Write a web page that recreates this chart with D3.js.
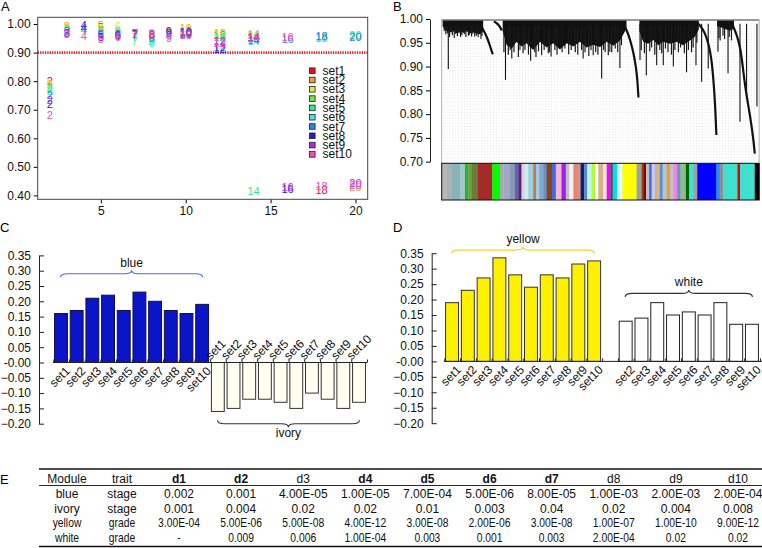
<!DOCTYPE html>
<html>
<head>
<meta charset="utf-8">
<script src="https://cdn.jsdelivr.net/npm/d3@7"></script>
<style>
  body { margin: 0; background: #fff; }
  svg text { font-family: "Liberation Sans", Arial, sans-serif; }
</style>
</head>
<body>
<script>
// ---- panel A: scale-free fit per soft power ----
const powers = [2, 3, 4, 5, 6, 7, 8, 9, 10, 12, 14, 16, 18, 20];
const setNames = ["set1", "set2", "set3", "set4", "set5", "set6", "set7", "set8", "set9", "set10"];
const setColors = ["#e8101e", "#f0a030", "#d4f040", "#78e040", "#30e890", "#40e8e8", "#3080e8", "#3018c8", "#a830e0", "#f050c0"];
const fitSet1  = [0.800, 0.985, 0.980, 0.990, 0.970, 0.965, 0.965, 0.970, 0.975, 0.960, 0.955, null, 0.420, null];
const fitSet2  = [0.790, 0.992, 0.985, 0.997, 0.975, 0.968, 0.970, 0.972, 0.985, 0.955, 0.960, null, null, 0.428];
const fitSet3  = [0.785, 0.985, 0.980, 0.985, 0.992, 0.966, 0.968, 0.970, 0.978, 0.965, 0.962, null, null, null];
const fitSet4  = [0.778, 0.980, 0.980, 0.980, 0.975, 0.942, 0.955, 0.965, 0.970, 0.970, 0.965, null, 0.952, 0.960];
const fitSet5  = [0.772, 0.980, 0.978, 0.975, 0.970, 0.955, 0.940, 0.960, 0.968, 0.955, 0.415, null, null, null];
const fitSet6  = [0.765, 0.975, 0.980, 0.970, 0.970, 0.960, 0.935, 0.958, 0.965, 0.945, 0.940, null, 0.956, 0.957];
const fitSet7  = [0.752, 0.975, 0.985, 0.965, 0.965, 0.962, 0.950, 0.970, 0.970, 0.920, 0.945, 0.947, 0.958, 0.955];
const fitSet8  = [0.720, 0.970, 0.997, 0.955, 0.960, 0.965, 0.960, 0.975, 0.972, 0.912, 0.950, 0.423, null, null];
const fitSet9  = [0.735, 0.970, 0.985, 0.960, 0.958, 0.968, 0.965, 0.968, 0.966, 0.940, 0.955, 0.430, null, 0.442];
const fitSet10 = [0.680, 0.965, 0.958, 0.948, 0.955, 0.970, 0.962, 0.950, 0.960, 0.935, 0.950, 0.955, 0.433, 0.437];
const fitBySet = [fitSet1, fitSet2, fitSet3, fitSet4, fitSet5, fitSet6, fitSet7, fitSet8, fitSet9, fitSet10];
const fitCutoff = 0.90;
const fitYTicks = [0.40, 0.50, 0.60, 0.70, 0.80, 0.90, 1.00];
const fitXTicks = [5, 10, 15, 20];

// ---- panel B: dendrogram (leaf order 0..1000) + module colours ----
const dendroYTicks = [0.70, 0.75, 0.80, 0.85, 0.90, 0.95, 1.00];
const massCluster1 = [[3, .985], [10, .978], [16, .975], [27, .972], [37, .974], [48, .970], [58, .973], [69, .971], [80, .974], [90, .970], [101, .972], [112, .969], [122, .968], [132, .975]];
const massCluster2 = [[194, .975], [207, .945], [223, .938], [238, .952], [254, .942], [270, .949], [291, .935], [313, .952], [334, .940], [355, .949], [376, .936], [398, .949], [419, .942], [440, .952], [461, .940], [482, .946], [504, .941], [525, .952], [546, .944], [567, .955], [578, .968], [588, .980]];
const massCluster3 = [[629, .975], [641, .952], [657, .948], [673, .956], [689, .945], [705, .952], [726, .948], [747, .952], [768, .945], [790, .955], [805, .962], [818, .978]];
const massCluster4 = [[876, .985], [890, .982], [905, .978], [918, .976], [930, .980]];
const chain1 = [[118, .993], [135, .975], [145, .960], [153, .945], [159, .932], [163, .926]];
const chain1b = [[166, .995], [178, .990], [186, .983], [191, .976]];
const chain2 = [[575, .993], [590, .975], [600, .955], [610, .930], [618, .900], [623, .870], [626, .835]];
const chain3 = [[810, .993], [825, .985], [838, .970], [848, .950], [858, .920], [865, .870], [870, .820], [874, .756]];
const chain4 = [[925, .988], [940, .965], [950, .940], [958, .900], [965, .860], [975, .820], [985, .780], [992, .745], [996, .717]];
const dendroDrops = [[21, .895], [40, .960], [60, .962], [85, .965], [105, .963], [125, .958],
  [203, .872], [223, .917], [249, .935], [283, .912], [318, .924], [348, .921], [392, .938], [450, .917],
  [482, .924], [509, .875], [535, .931], [567, .897],
  [631, .914], [651, .882], [684, .903], [705, .903], [737, .900], [779, .888], [809, .903], [827, .868], [848, .896],
  [879, .931], [911, .886], [949, .784], [970, .835], [1003, .816]];
const dendroHairs = [[8, .975], [13, .968], [18, .970], [25, .962], [30, .972], [34, .966], [44, .969], [50, .964], [55, .970],
  [64, .966], [72, .968], [77, .962], [88, .967], [95, .963], [99, .969], [110, .965], [116, .962], [128, .964],
  [198, .930], [212, .925], [218, .935], [230, .930], [244, .920], [259, .928], [265, .935], [276, .925], [296, .930],
  [300, .920], [308, .932], [326, .935], [339, .928], [343, .930], [360, .935], [367, .925], [383, .930], [404, .926],
  [412, .935], [425, .930], [433, .925], [445, .935], [456, .930], [468, .922], [475, .935], [490, .930], [497, .925],
  [515, .935], [520, .930], [530, .924], [541, .930], [552, .938], [560, .930], [572, .945],
  [635, .935], [645, .928], [662, .932], [668, .940], [678, .925], [694, .935], [700, .928], [712, .938], [720, .930],
  [731, .925], [742, .935], [753, .930], [760, .940], [772, .928], [785, .935], [795, .930], [800, .940], [812, .950],
  [882, .960], [886, .955], [895, .965], [900, .958], [915, .962], [922, .955]];
const moduleColors = ["#b8b8b8", "#a8b4b4", "#88b4b8", "#a0c8c8", "#30b030", "#70a040", "#6b7b3a", "#a52a2a", "#00ff00", "#a8a8a8",
  "#a0a8c8", "#8898b8", "#5868a8", "#602080", "#d8d8d8", "#c8eef8", "#a0d0e0", "#c08040", "#a8c8e8", "#80a8d0",
  "#6890c0", "#8b4513", "#4169e1", "#f4b8d0", "#a020f0", "#c0c0c0", "#f0f0f0", "#f08070", "#c09888", "#191970",
  "#5090c8", "#c8f0f0", "#adff2f", "#ffffff", "#d2b48c", "#e8e8d8", "#ff00ff", "#505050", "#00e0e0", "#e0ffff",
  "#ffff00", "#a0a0a0", "#8b4513", "#8b0000", "#c0c0c0", "#4169e1", "#c8c8f8", "#d2b48c", "#6090c0", "#a8c8e8",
  "#e0a040", "#c0c0c0", "#ee82ee", "#6a9ab0", "#8fbc8f", "#006400", "#40e0d0", "#a0a0a0", "#0000ff", "#1e90ff",
  "#909090", "#40e0d0", "#e00000", "#40e0d0", "#000000"];
const moduleWidths = [16, 16, 26, 16, 11, 10, 19, 47, 24, 11,
  21, 16, 11, 10, 11, 10, 16, 9, 10, 13,
  11, 17, 12, 18, 14, 11, 13, 15, 8, 11,
  10, 14, 11, 10, 16, 11, 12, 7, 14, 17,
  45, 16, 7, 7, 10, 8, 10, 16, 9, 12,
  11, 11, 12, 11, 17, 10, 13, 13, 61, 11,
  11, 45, 8, 47, 14];

// ---- panels C & D: module-trait correlation per data set ----
const corrYTicks = [-0.20, -0.15, -0.10, -0.05, 0.00, 0.05, 0.10, 0.15, 0.20, 0.25, 0.30, 0.35];
const blueVals   = [0.16, 0.17, 0.21, 0.22, 0.17, 0.23, 0.20, 0.17, 0.16, 0.19];
const ivoryVals  = [-0.16, -0.15, -0.12, -0.12, -0.13, -0.15, -0.10, -0.12, -0.15, -0.13];
const yellowVals = [0.19, 0.23, 0.27, 0.335, 0.28, 0.24, 0.28, 0.27, 0.315, 0.325];
const whiteVals  = [null, 0.13, 0.14, 0.19, 0.15, 0.16, 0.15, 0.19, 0.12, 0.12];

// ---- panel E: p-values ----
const tableHeader = ["Module", "trait", "d1", "d2", "d3", "d4", "d5", "d6", "d7", "d8", "d9", "d10"];
const headerBold  = [false, false, true, true, false, true, true, true, true, false, false, false];
const tableModules = ["blue", "ivory", "yellow", "white"];
const tableTraits  = ["stage", "stage", "grade", "grade"];
const pBlue   = ["0.002", "0.001", "4.00E-05", "1.00E-05", "7.00E-04", "5.00E-06", "8.00E-05", "1.00E-03", "2.00E-03", "2.00E-04"];
const pIvory  = ["0.001", "0.004", "0.02", "0.02", "0.01", "0.003", "0.04", "0.02", "0.004", "0.008"];
const pYellow = ["3.00E-04", "5.00E-06", "5.00E-08", "4.00E-12", "3.00E-08", "2.00E-06", "3.00E-08", "1.00E-07", "1.00E-10", "9.00E-12"];
const pWhite  = ["-", "0.009", "0.006", "1.00E-04", "0.003", "0.001", "0.003", "2.00E-04", "0.02", "0.02"];
const pRows = [pBlue, pIvory, pYellow, pWhite];

const width = 762, height = 548;
const svg = d3.select("body").append("svg")
  .attr("width", width).attr("height", height)
  .attr("viewBox", `0 0 ${width} ${height}`);

const panelLetter = (t, x, y) => svg.append("text").attr("x", x).attr("y", y)
  .attr("font-size", 13).text(t);

// ================= A =================
{
  const x = d3.scaleLinear().domain([1.28, 20.72]).range([37.7, 367.7]);
  const y = d3.scaleLinear().domain([0.3864, 1.0236]).range([199.3, 17.3]);
  const g = svg.append("g");

  g.append("g").attr("transform", `translate(37.7,0)`)
    .call(d3.axisLeft(y).tickValues(fitYTicks).tickFormat(d3.format(".2f")).tickSize(4).tickSizeOuter(0))
    .call(a => a.select(".domain").remove())
    .call(a => a.selectAll("text").attr("font-size", 12).attr("fill", "#111"));
  g.append("g").attr("transform", `translate(0,199.3)`)
    .call(d3.axisBottom(x).tickValues(fitXTicks).tickSize(4).tickSizeOuter(0))
    .call(a => a.select(".domain").remove())
    .call(a => a.selectAll("text").attr("font-size", 12).attr("fill", "#111").attr("dy", "0.72em"));

  g.append("path")
    .attr("d", d3.line()([[x.domain()[0], fitCutoff], [x.domain()[1], fitCutoff]].map(d => [x(d[0]), y(d[1])])))
    .attr("stroke", "#ee1c24").attr("stroke-width", 2.6).attr("stroke-dasharray", "1.3 1.1");

  fitBySet.forEach((vals, si) => {
    g.append("g").selectAll("text")
      .data(powers.map((p, i) => ({ p, v: vals[i] })).filter(d => d.v != null))
      .join("text")
      .attr("x", d => x(d.p)).attr("y", d => y(d.v))
      .attr("text-anchor", "middle").attr("dominant-baseline", "central")
      .attr("font-size", 11).attr("fill", setColors[si])
      .text(d => d.p);
  });

  g.append("rect").attr("x", 37.7).attr("y", 17.3).attr("width", 330).attr("height", 182)
    .attr("fill", "none").attr("stroke", "#444").attr("stroke-width", 1);

  const leg = g.append("g").selectAll("g").data(setNames).join("g")
    .attr("transform", (d, i) => `translate(309.5,${70.7 + i * 9.3})`);
  leg.append("rect").attr("x", 0).attr("y", -2.8).attr("width", 5.6).attr("height", 5.6)
    .attr("fill", (d, i) => setColors[i]).attr("stroke", "#222").attr("stroke-width", 0.8);
  leg.append("text").attr("x", 13).attr("y", 0).attr("dominant-baseline", "central")
    .attr("font-size", 12).attr("fill", "#111").text(d => d);

  panelLetter("A", 1, 11);
}

// ================= B =================
{
  const xL = d3.scaleLinear().domain([0, 1000]).range([441.7, 756]);
  const y = d3.scaleLinear().domain([0.70, 1.00]).range([161.7, 19]);
  const g = svg.append("g");
  const defs = svg.append("defs");
  defs.append("pattern").attr("id", "dots").attr("patternUnits", "userSpaceOnUse")
    .attr("width", 2.9).attr("height", 2.8)
    .append("rect").attr("width", 0.7).attr("height", 0.7).attr("fill", "#c4c4c4");

  g.append("rect").attr("x", xL(0)).attr("y", y(0.99)).attr("width", xL(1000) - xL(0)).attr("height", 163.3 - y(0.99))
    .attr("fill", "url(#dots)");

  g.append("g").attr("transform", `translate(430,0)`)
    .call(d3.axisLeft(y).tickValues(dendroYTicks).tickFormat(d3.format(".2f")).tickSize(4).tickSizeOuter(0))
    .call(a => a.select(".domain").attr("stroke", "#222"))
    .call(a => a.selectAll("text").attr("font-size", 12).attr("fill", "#111"));

  const area = d3.area().x(d => xL(d[0])).y0(d => y(d[1])).y1(y(0.998)).curve(d3.curveLinear);
  [massCluster1, massCluster2, massCluster3, massCluster4].forEach(m => {
    g.append("path").attr("d", area(m)).attr("fill", "#111");
  });
  g.append("g").selectAll("line").data(dendroHairs).join("line")
    .attr("x1", d => xL(d[0])).attr("x2", d => xL(d[0]))
    .attr("y1", y(0.985)).attr("y2", d => y(d[1]))
    .attr("stroke", "#1a1a1a").attr("stroke-width", 1.2);
  const line = d3.line().x(d => xL(d[0])).y(d => y(d[1])).curve(d3.curveBasis);
  [chain1, chain1b, chain2, chain3, chain4].forEach(c => {
    g.append("path").attr("d", line(c)).attr("fill", "none").attr("stroke", "#111").attr("stroke-width", 2.2);
  });
  g.append("g").selectAll("line").data(dendroDrops).join("line")
    .attr("x1", d => xL(d[0])).attr("x2", d => xL(d[0]))
    .attr("y1", y(0.99)).attr("y2", d => y(d[1]))
    .attr("stroke", "#111").attr("stroke-width", 1.1);

  g.append("line").attr("x1", xL(0)).attr("x2", xL(1010)).attr("y1", y(0.998)).attr("y2", y(0.998))
    .attr("stroke", "#777").attr("stroke-width", 1.4);
  g.append("line").attr("x1", xL(0)).attr("x2", xL(0)).attr("y1", y(0.998)).attr("y2", 163.3)
    .attr("stroke", "#999").attr("stroke-width", 0.8);
  g.append("line").attr("x1", xL(1010)).attr("x2", xL(1010)).attr("y1", y(0.998)).attr("y2", 163.3)
    .attr("stroke", "#999").attr("stroke-width", 0.8);

  let acc = 0;
  const segs = moduleWidths.map((w, i) => { const s = { x0: acc, x1: acc + w, c: moduleColors[i] }; acc += w; return s; });
  g.append("g").selectAll("rect").data(segs).join("rect")
    .attr("x", d => xL(d.x0)).attr("width", d => xL(d.x1) - xL(d.x0) + 0.3)
    .attr("y", 163.3).attr("height", 36.7).attr("fill", d => d.c);
  g.append("rect").attr("x", xL(0)).attr("y", 163.3).attr("width", xL(acc) - xL(0)).attr("height", 36.7)
    .attr("fill", "none").attr("stroke", "#111").attr("stroke-width", 1);

  panelLetter("B", 393, 11);
}

// ================= C & D =================
function brace(x0, x1, yb, dir) {
  // dir = -1 : tip points up, ends curl down
  const xm = (x0 + x1) / 2, e = 3.5, t = 3.5, r = 7;
  const p = d3.path();
  p.moveTo(x0, yb - dir * e);
  p.quadraticCurveTo(x0, yb, x0 + r, yb);
  p.lineTo(xm - r, yb);
  p.quadraticCurveTo(xm, yb, xm, yb + dir * t);
  p.quadraticCurveTo(xm, yb, xm + r, yb);
  p.lineTo(x1 - r, yb);
  p.quadraticCurveTo(x1, yb, x1, yb - dir * e);
  return p.toString();
}

function barPanel(opt) {
  const g = svg.append("g");
  const y = d3.scaleLinear().domain([-0.20, 0.35]).range(opt.yRange);
  const slots = d3.range(20);
  const x = d3.scaleBand().domain(slots).range(opt.xRange).paddingInner(0.18).paddingOuter(0.1);

  g.append("g").attr("transform", `translate(${opt.axisX},0)`)
    .call(d3.axisRight(y).tickValues(corrYTicks).tickSize(5).tickSizeOuter(0)
      .tickFormat(d => d === 0 ? "-0.00" : d3.format(".2f")(d)))
    .call(a => a.select(".domain").attr("stroke", "#222"))
    .call(a => a.selectAll(".tick line").attr("stroke", "#222"))
    .call(a => a.selectAll("text").attr("font-size", 12).attr("fill", "#111")
      .attr("text-anchor", "end").attr("x", opt.labelGap));

  const y0 = y(0);
  opt.groups.forEach((grp, gi) => {
    const data = grp.vals.map((v, i) => ({ v, i: gi * 10 + i, name: setNames[i] })).filter(d => d.v != null);
    g.append("g").selectAll("rect").data(data).join("rect")
      .attr("x", d => x(d.i)).attr("width", x.bandwidth())
      .attr("y", d => Math.min(y(d.v), y0)).attr("height", d => Math.abs(y(d.v) - y0))
      .attr("fill", grp.fill).attr("stroke", grp.stroke).attr("stroke-width", 1);

    g.append("g").selectAll("text").data(data).join("text")
      .attr("transform", d => grp.labelAbove
        ? `translate(${x(d.i) - 1},${y0 - 2}) rotate(-45)`
        : `translate(${x(d.i) + x.bandwidth() - 3},${y0 + 3}) rotate(-45)`)
      .attr("text-anchor", grp.labelAbove ? "start" : "end")
      .attr("dominant-baseline", grp.labelAbove ? "auto" : "hanging")
      .attr("font-size", 12).attr("fill", "#111").text(d => d.name);

    const first = data[0].i, last = data[data.length - 1].i;
    const bx0 = x(first) + 6, bx1 = x(last) + x.bandwidth() - 6;
    const by = y(grp.braceAt);
    g.append("path").attr("d", brace(bx0, bx1, by, grp.braceAbove ? -1 : 1))
      .attr("fill", "none").attr("stroke", grp.braceColor).attr("stroke-width", 1.1);
    g.append("text").attr("x", (bx0 + bx1) / 2)
      .attr("y", grp.braceAbove ? by - 7 : by + 13)
      .attr("text-anchor", "middle").attr("font-size", 12).attr("fill", "#111").text(grp.label);
  });

  g.append("line").attr("x1", opt.xRange[0]).attr("x2", opt.baseEnd).attr("y1", y0).attr("y2", y0)
    .attr("stroke", "#222").attr("stroke-width", 1);
  g.append("g").selectAll("line").data(d3.range(21)).join("line")
    .attr("x1", i => opt.xRange[0] + x.step() * (i + 0.05)).attr("x2", i => opt.xRange[0] + x.step() * (i + 0.05))
    .attr("y1", y0).attr("y2", y0 - 3).attr("stroke", "#222").attr("stroke-width", 1);
}

barPanel({
  yRange: [423.7, 255.4], xRange: [53, 367], axisX: 39, labelGap: -8, baseEnd: 367,
  groups: [
    { vals: blueVals, fill: "#0a14c8", stroke: "#101040", label: "blue", braceColor: "#4a70d8", braceAbove: true, braceAt: 0.29, labelAbove: false },
    { vals: ivoryVals, fill: "#fffff0", stroke: "#333", label: "ivory", braceColor: "#333", braceAbove: false, braceAt: -0.20, labelAbove: true }
  ]
});
barPanel({
  yRange: [423.2, 253.2], xRange: [444, 760], axisX: 431.7, labelGap: -8, baseEnd: 762,
  groups: [
    { vals: yellowVals, fill: "#fff000", stroke: "#333", label: "yellow", braceColor: "#f0d040", braceAbove: true, braceAt: 0.36, labelAbove: false },
    { vals: whiteVals, fill: "#ffffff", stroke: "#222", label: "white", braceColor: "#333", braceAbove: true, braceAt: 0.22, labelAbove: false }
  ]
});
panelLetter("C", 0, 232);
panelLetter("D", 393, 232);

// ================= E =================
{
  const g = svg.append("g");
  const colX = d3.scalePoint().domain(tableHeader.slice(2)).range([179, 738]);
  const xOf = (k) => k === "Module" ? 67 : k === "trait" ? 122 : colX(k);
  const rowY = d3.scalePoint().domain(tableModules).range([494, 537.5]);

  g.append("line").attr("x1", 39).attr("x2", 762).attr("y1", 469).attr("y2", 469).attr("stroke", "#111").attr("stroke-width", 1.6);
  g.append("line").attr("x1", 39).attr("x2", 762).attr("y1", 485.5).attr("y2", 485.5).attr("stroke", "#111").attr("stroke-width", 0.9);
  g.append("line").attr("x1", 39).attr("x2", 762).attr("y1", 546.5).attr("y2", 546.5).attr("stroke", "#111").attr("stroke-width", 1.6);

  g.append("g").selectAll("text").data(tableHeader).join("text")
    .attr("x", d => xOf(d)).attr("y", 478.5).attr("dominant-baseline", "central")
    .attr("text-anchor", "middle").attr("font-size", 12)
    .attr("font-weight", (d, i) => headerBold[i] ? "bold" : "normal").attr("fill", "#111")
    .text(d => d);

  tableModules.forEach((m, ri) => {
    const squeeze = ri >= 2 ? 0.86 : 1;
    const cells = [m, tableTraits[ri], ...pRows[ri]];
    g.append("g").selectAll("text").data(cells).join("text")
      .attr("transform", (d, i) => `translate(${xOf(tableHeader[i])},${rowY(m)}) scale(${squeeze},1)`)
      .attr("dominant-baseline", "central")
      .attr("text-anchor", "middle").attr("font-size", 12).attr("fill", "#111")
      .text(d => d);
  });

  panelLetter("E", 0, 484);
}
</script>
</body>
</html>
